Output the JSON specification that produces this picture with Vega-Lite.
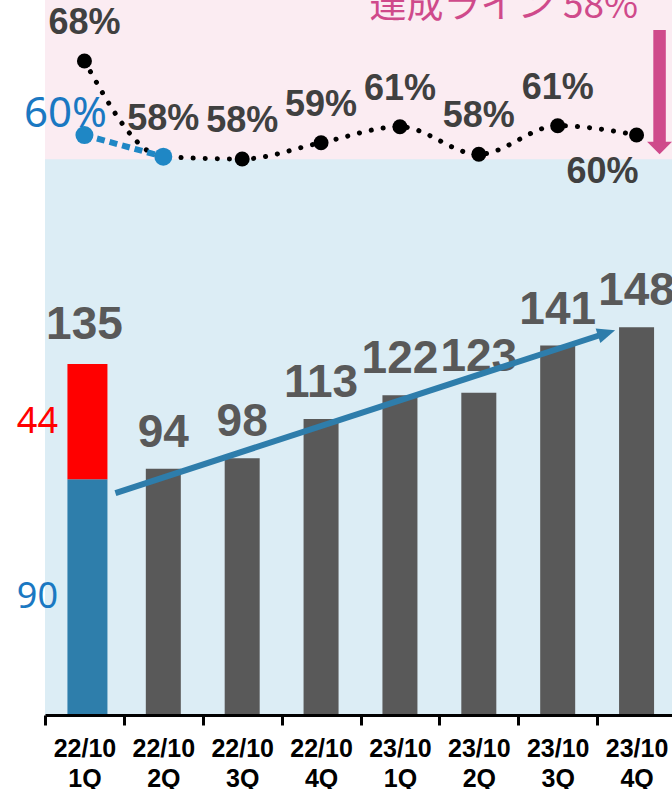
{
  "$schema": "https://vega.github.io/schema/vega-lite/v6.json",
  "width": 627,
  "height": 715,
  "autosize": {"type": "none"},
  "padding": {"left": 45, "top": 0, "right": 0, "bottom": 74},
  "background": "#ffffff",
  "config": {"view": {"fill": "#dcedf5", "stroke": null}, "font": "Liberation Sans"},
  "datasets": {
    "sales": [
      {"q": "22/10 1Q", "value": 135},
      {"q": "22/10 2Q", "value": 94},
      {"q": "22/10 3Q", "value": 98},
      {"q": "22/10 4Q", "value": 113},
      {"q": "23/10 1Q", "value": 122},
      {"q": "23/10 2Q", "value": 123},
      {"q": "23/10 3Q", "value": 141},
      {"q": "23/10 4Q", "value": 148}
    ],
    "split": [
      {"q": "22/10 1Q", "part": "既存", "value": 90},
      {"q": "22/10 1Q", "part": "新規", "value": 44}
    ],
    "rate": [
      {"q": "22/10 1Q", "rate": 67.9, "label": "68%"},
      {"q": "22/10 2Q", "rate": 57.55, "label": "58%"},
      {"q": "22/10 3Q", "rate": 57.3, "label": "58%"},
      {"q": "22/10 4Q", "rate": 59.06, "label": "59%"},
      {"q": "23/10 1Q", "rate": 60.79, "label": "61%"},
      {"q": "23/10 2Q", "rate": 57.81, "label": "58%"},
      {"q": "23/10 3Q", "rate": 60.9, "label": "61%"},
      {"q": "23/10 4Q", "rate": 59.89, "label": "60%"}
    ],
    "rateBlue": [
      {"q": "22/10 1Q", "rate": 59.89, "label": "60%"},
      {"q": "22/10 2Q", "rate": 57.55, "label": "58%"}
    ]
  },
  "layer": [
    {
      "data": {"values": [{}]},
      "mark": {"type": "rect", "color": "#fbecf2"},
      "encoding": {
        "y": {"datum": 57.26, "type": "quantitative", "scale": {"domain": [-2.81, 74.49], "nice": false, "zero": false}, "axis": null},
        "y2": {"datum": 74.49}
      }
    },
    {
      "data": {"name": "sales"},
      "transform": [{"filter": "datum.q != '22/10 1Q'"}],
      "mark": {"type": "bar", "color": "#595959", "width": 35},
      "encoding": {
        "x": {"field": "q", "type": "nominal", "scale": {"domain": ["22/10 1Q","22/10 2Q","22/10 3Q","22/10 4Q","23/10 1Q","23/10 2Q","23/10 3Q","23/10 4Q"], "range": [0, 631], "paddingInner": 0, "paddingOuter": 0}, "axis": {"title": null, "labelExpr": "isValid(datum.value) ? split(datum.value, ' ') : ''", "labelAngle": 0, "labelFont": "Liberation Sans", "labelFontSize": 25, "labelFontWeight": "bold", "labelColor": "#000000", "labelLineHeight": 30, "labelPadding": 11, "labelBaseline": "top", "tickBand": "extent", "tickSize": 10, "tickWidth": 3, "tickColor": "#000000", "domainColor": "#000000", "domainWidth": 3, "grid": false, "labelOverlap": false, "labelBound": false, "zindex": 1}},
        "y": {"field": "value", "type": "quantitative", "scale": {"domain": [0, 272.9], "nice": false, "zero": false}, "axis": null}
      }
    },
    {
      "data": {"name": "split"},
      "mark": {"type": "bar", "width": 40, "xOffset": 3},
      "encoding": {
        "x": {"field": "q", "type": "nominal", "scale": {"domain": ["22/10 1Q","22/10 2Q","22/10 3Q","22/10 4Q","23/10 1Q","23/10 2Q","23/10 3Q","23/10 4Q"], "range": [0, 631], "paddingInner": 0, "paddingOuter": 0}, "axis": {"title": null, "labelExpr": "isValid(datum.value) ? split(datum.value, ' ') : ''", "labelAngle": 0, "labelFont": "Liberation Sans", "labelFontSize": 25, "labelFontWeight": "bold", "labelColor": "#000000", "labelLineHeight": 30, "labelPadding": 11, "labelBaseline": "top", "tickBand": "extent", "tickSize": 10, "tickWidth": 3, "tickColor": "#000000", "domainColor": "#000000", "domainWidth": 3, "grid": false, "labelOverlap": false, "labelBound": false, "zindex": 1}},
        "y": {"field": "value", "type": "quantitative", "stack": "zero", "scale": {"domain": [0, 272.9], "nice": false, "zero": false}, "axis": null},
        "color": {"field": "part", "type": "nominal", "scale": {"domain": ["既存", "新規"], "range": ["#2e7eab", "#ff0000"]}, "legend": null},
        "order": {"field": "part", "sort": "descending"}
      }
    },
    {
      "data": {"name": "split"},
      "transform": [
        {"stack": "value", "groupby": ["q"], "sort": [{"field": "part", "order": "descending"}], "as": ["v0", "v1"]},
        {"calculate": "(datum.v0 + datum.v1) / 2", "as": "mid"}
      ],
      "mark": {"type": "text", "font": "Noto Sans", "fontSize": 36, "dx": -47, "baseline": "middle"},
      "encoding": {
        "x": {"field": "q", "type": "nominal", "scale": {"domain": ["22/10 1Q","22/10 2Q","22/10 3Q","22/10 4Q","23/10 1Q","23/10 2Q","23/10 3Q","23/10 4Q"], "range": [0, 631], "paddingInner": 0, "paddingOuter": 0}, "axis": {"title": null, "labelExpr": "isValid(datum.value) ? split(datum.value, ' ') : ''", "labelAngle": 0, "labelFont": "Liberation Sans", "labelFontSize": 25, "labelFontWeight": "bold", "labelColor": "#000000", "labelLineHeight": 30, "labelPadding": 11, "labelBaseline": "top", "tickBand": "extent", "tickSize": 10, "tickWidth": 3, "tickColor": "#000000", "domainColor": "#000000", "domainWidth": 3, "grid": false, "labelOverlap": false, "labelBound": false, "zindex": 1}},
        "y": {"field": "mid", "type": "quantitative", "scale": {"domain": [0, 272.9], "nice": false, "zero": false}, "axis": null},
        "text": {"field": "value", "type": "quantitative"},
        "color": {"field": "part", "type": "nominal", "scale": {"domain": ["既存", "新規"], "range": ["#1a78c2", "#ff0000"]}, "legend": null}
      }
    },
    {
      "data": {"name": "sales"},
      "mark": {"type": "text", "fontSize": 46, "fontWeight": "bold", "color": "#595959", "baseline": "alphabetic", "dy": -22},
      "encoding": {
        "x": {"field": "q", "type": "nominal", "scale": {"domain": ["22/10 1Q","22/10 2Q","22/10 3Q","22/10 4Q","23/10 1Q","23/10 2Q","23/10 3Q","23/10 4Q"], "range": [0, 631], "paddingInner": 0, "paddingOuter": 0}, "axis": {"title": null, "labelExpr": "isValid(datum.value) ? split(datum.value, ' ') : ''", "labelAngle": 0, "labelFont": "Liberation Sans", "labelFontSize": 25, "labelFontWeight": "bold", "labelColor": "#000000", "labelLineHeight": 30, "labelPadding": 11, "labelBaseline": "top", "tickBand": "extent", "tickSize": 10, "tickWidth": 3, "tickColor": "#000000", "domainColor": "#000000", "domainWidth": 3, "grid": false, "labelOverlap": false, "labelBound": false, "zindex": 1}},
        "y": {"field": "value", "type": "quantitative", "scale": {"domain": [0, 272.9], "nice": false, "zero": false}, "axis": null},
        "text": {"field": "value", "type": "quantitative"}
      }
    },
    {
      "data": {"values": [{}]},
      "mark": {"type": "rule", "color": "#2e7dab", "strokeWidth": 6, "xOffset": 31, "x2Offset": -30},
      "encoding": {
        "x": {"datum": "22/10 1Q", "type": "nominal", "scale": {"domain": ["22/10 1Q","22/10 2Q","22/10 3Q","22/10 4Q","23/10 1Q","23/10 2Q","23/10 3Q","23/10 4Q"], "range": [0, 631], "paddingInner": 0, "paddingOuter": 0}, "axis": {"title": null, "labelExpr": "isValid(datum.value) ? split(datum.value, ' ') : ''", "labelAngle": 0, "labelFont": "Liberation Sans", "labelFontSize": 25, "labelFontWeight": "bold", "labelColor": "#000000", "labelLineHeight": 30, "labelPadding": 11, "labelBaseline": "top", "tickBand": "extent", "tickSize": 10, "tickWidth": 3, "tickColor": "#000000", "domainColor": "#000000", "domainWidth": 3, "grid": false, "labelOverlap": false, "labelBound": false, "zindex": 1}},
        "x2": {"datum": "23/10 4Q"},
        "y": {"datum": 84.7, "type": "quantitative", "scale": {"domain": [0, 272.9], "nice": false, "zero": false}, "axis": null},
        "y2": {"datum": 145.8}
      }
    },
    {
      "data": {"values": [{}]},
      "mark": {"type": "point", "shape": "M-1,-0.85L1,0L-1,0.85Z", "filled": true, "opacity": 1, "color": "#2e7dab", "size": 324, "angle": 342, "xOffset": -30},
      "encoding": {
        "x": {"datum": "23/10 4Q", "type": "nominal", "scale": {"domain": ["22/10 1Q","22/10 2Q","22/10 3Q","22/10 4Q","23/10 1Q","23/10 2Q","23/10 3Q","23/10 4Q"], "range": [0, 631], "paddingInner": 0, "paddingOuter": 0}, "axis": {"title": null, "labelExpr": "isValid(datum.value) ? split(datum.value, ' ') : ''", "labelAngle": 0, "labelFont": "Liberation Sans", "labelFontSize": 25, "labelFontWeight": "bold", "labelColor": "#000000", "labelLineHeight": 30, "labelPadding": 11, "labelBaseline": "top", "tickBand": "extent", "tickSize": 10, "tickWidth": 3, "tickColor": "#000000", "domainColor": "#000000", "domainWidth": 3, "grid": false, "labelOverlap": false, "labelBound": false, "zindex": 1}},
        "y": {"datum": 145.8, "type": "quantitative", "scale": {"domain": [0, 272.9], "nice": false, "zero": false}, "axis": null}
      }
    },
    {
      "data": {"name": "rate"},
      "mark": {"type": "line", "color": "#000000", "strokeWidth": 5, "strokeCap": "round", "strokeDash": [0.1, 12], "interpolate": "monotone"},
      "encoding": {
        "x": {"field": "q", "type": "nominal", "scale": {"domain": ["22/10 1Q","22/10 2Q","22/10 3Q","22/10 4Q","23/10 1Q","23/10 2Q","23/10 3Q","23/10 4Q"], "range": [0, 631], "paddingInner": 0, "paddingOuter": 0}, "axis": {"title": null, "labelExpr": "isValid(datum.value) ? split(datum.value, ' ') : ''", "labelAngle": 0, "labelFont": "Liberation Sans", "labelFontSize": 25, "labelFontWeight": "bold", "labelColor": "#000000", "labelLineHeight": 30, "labelPadding": 11, "labelBaseline": "top", "tickBand": "extent", "tickSize": 10, "tickWidth": 3, "tickColor": "#000000", "domainColor": "#000000", "domainWidth": 3, "grid": false, "labelOverlap": false, "labelBound": false, "zindex": 1}},
        "y": {"field": "rate", "type": "quantitative", "scale": {"domain": [-2.81, 74.49], "nice": false, "zero": false}, "axis": null}
      }
    },
    {
      "data": {"name": "rateBlue"},
      "mark": {"type": "line", "color": "#1f87c5", "strokeWidth": 6, "strokeDash": [8, 5]},
      "encoding": {
        "x": {"field": "q", "type": "nominal", "scale": {"domain": ["22/10 1Q","22/10 2Q","22/10 3Q","22/10 4Q","23/10 1Q","23/10 2Q","23/10 3Q","23/10 4Q"], "range": [0, 631], "paddingInner": 0, "paddingOuter": 0}, "axis": {"title": null, "labelExpr": "isValid(datum.value) ? split(datum.value, ' ') : ''", "labelAngle": 0, "labelFont": "Liberation Sans", "labelFontSize": 25, "labelFontWeight": "bold", "labelColor": "#000000", "labelLineHeight": 30, "labelPadding": 11, "labelBaseline": "top", "tickBand": "extent", "tickSize": 10, "tickWidth": 3, "tickColor": "#000000", "domainColor": "#000000", "domainWidth": 3, "grid": false, "labelOverlap": false, "labelBound": false, "zindex": 1}},
        "y": {"field": "rate", "type": "quantitative", "scale": {"domain": [-2.81, 74.49], "nice": false, "zero": false}, "axis": null}
      }
    },
    {
      "data": {"name": "rate"},
      "mark": {"type": "point", "filled": true, "opacity": 1, "color": "#000000", "size": 225},
      "encoding": {
        "x": {"field": "q", "type": "nominal", "scale": {"domain": ["22/10 1Q","22/10 2Q","22/10 3Q","22/10 4Q","23/10 1Q","23/10 2Q","23/10 3Q","23/10 4Q"], "range": [0, 631], "paddingInner": 0, "paddingOuter": 0}, "axis": {"title": null, "labelExpr": "isValid(datum.value) ? split(datum.value, ' ') : ''", "labelAngle": 0, "labelFont": "Liberation Sans", "labelFontSize": 25, "labelFontWeight": "bold", "labelColor": "#000000", "labelLineHeight": 30, "labelPadding": 11, "labelBaseline": "top", "tickBand": "extent", "tickSize": 10, "tickWidth": 3, "tickColor": "#000000", "domainColor": "#000000", "domainWidth": 3, "grid": false, "labelOverlap": false, "labelBound": false, "zindex": 1}},
        "y": {"field": "rate", "type": "quantitative", "scale": {"domain": [-2.81, 74.49], "nice": false, "zero": false}, "axis": null}
      }
    },
    {
      "data": {"name": "rateBlue"},
      "mark": {"type": "point", "filled": true, "opacity": 1, "color": "#1f87c5", "size": 324},
      "encoding": {
        "x": {"field": "q", "type": "nominal", "scale": {"domain": ["22/10 1Q","22/10 2Q","22/10 3Q","22/10 4Q","23/10 1Q","23/10 2Q","23/10 3Q","23/10 4Q"], "range": [0, 631], "paddingInner": 0, "paddingOuter": 0}, "axis": {"title": null, "labelExpr": "isValid(datum.value) ? split(datum.value, ' ') : ''", "labelAngle": 0, "labelFont": "Liberation Sans", "labelFontSize": 25, "labelFontWeight": "bold", "labelColor": "#000000", "labelLineHeight": 30, "labelPadding": 11, "labelBaseline": "top", "tickBand": "extent", "tickSize": 10, "tickWidth": 3, "tickColor": "#000000", "domainColor": "#000000", "domainWidth": 3, "grid": false, "labelOverlap": false, "labelBound": false, "zindex": 1}},
        "y": {"field": "rate", "type": "quantitative", "scale": {"domain": [-2.81, 74.49], "nice": false, "zero": false}, "axis": null}
      }
    },
    {
      "data": {"name": "rate"},
      "transform": [{"filter": "datum.q != '23/10 4Q'"}],
      "mark": {"type": "text", "fontSize": 36, "fontWeight": "bold", "color": "#404040", "baseline": "alphabetic", "dy": -27},
      "encoding": {
        "x": {"field": "q", "type": "nominal", "scale": {"domain": ["22/10 1Q","22/10 2Q","22/10 3Q","22/10 4Q","23/10 1Q","23/10 2Q","23/10 3Q","23/10 4Q"], "range": [0, 631], "paddingInner": 0, "paddingOuter": 0}, "axis": {"title": null, "labelExpr": "isValid(datum.value) ? split(datum.value, ' ') : ''", "labelAngle": 0, "labelFont": "Liberation Sans", "labelFontSize": 25, "labelFontWeight": "bold", "labelColor": "#000000", "labelLineHeight": 30, "labelPadding": 11, "labelBaseline": "top", "tickBand": "extent", "tickSize": 10, "tickWidth": 3, "tickColor": "#000000", "domainColor": "#000000", "domainWidth": 3, "grid": false, "labelOverlap": false, "labelBound": false, "zindex": 1}},
        "y": {"field": "rate", "type": "quantitative", "scale": {"domain": [-2.81, 74.49], "nice": false, "zero": false}, "axis": null},
        "text": {"field": "label", "type": "nominal"}
      }
    },
    {
      "data": {"name": "rate"},
      "transform": [{"filter": "datum.q == '23/10 4Q'"}],
      "mark": {"type": "text", "fontSize": 36, "fontWeight": "bold", "color": "#404040", "baseline": "alphabetic", "dx": -34, "dy": 48},
      "encoding": {
        "x": {"field": "q", "type": "nominal", "scale": {"domain": ["22/10 1Q","22/10 2Q","22/10 3Q","22/10 4Q","23/10 1Q","23/10 2Q","23/10 3Q","23/10 4Q"], "range": [0, 631], "paddingInner": 0, "paddingOuter": 0}, "axis": {"title": null, "labelExpr": "isValid(datum.value) ? split(datum.value, ' ') : ''", "labelAngle": 0, "labelFont": "Liberation Sans", "labelFontSize": 25, "labelFontWeight": "bold", "labelColor": "#000000", "labelLineHeight": 30, "labelPadding": 11, "labelBaseline": "top", "tickBand": "extent", "tickSize": 10, "tickWidth": 3, "tickColor": "#000000", "domainColor": "#000000", "domainWidth": 3, "grid": false, "labelOverlap": false, "labelBound": false, "zindex": 1}},
        "y": {"field": "rate", "type": "quantitative", "scale": {"domain": [-2.81, 74.49], "nice": false, "zero": false}, "axis": null},
        "text": {"field": "label", "type": "nominal"}
      }
    },
    {
      "data": {"name": "rateBlue"},
      "transform": [{"filter": "datum.q == '22/10 1Q'"}],
      "mark": {"type": "text", "font": "Noto Sans", "fontSize": 42, "color": "#1a78c2", "baseline": "alphabetic", "dx": -19, "dy": -8},
      "encoding": {
        "x": {"field": "q", "type": "nominal", "scale": {"domain": ["22/10 1Q","22/10 2Q","22/10 3Q","22/10 4Q","23/10 1Q","23/10 2Q","23/10 3Q","23/10 4Q"], "range": [0, 631], "paddingInner": 0, "paddingOuter": 0}, "axis": {"title": null, "labelExpr": "isValid(datum.value) ? split(datum.value, ' ') : ''", "labelAngle": 0, "labelFont": "Liberation Sans", "labelFontSize": 25, "labelFontWeight": "bold", "labelColor": "#000000", "labelLineHeight": 30, "labelPadding": 11, "labelBaseline": "top", "tickBand": "extent", "tickSize": 10, "tickWidth": 3, "tickColor": "#000000", "domainColor": "#000000", "domainWidth": 3, "grid": false, "labelOverlap": false, "labelBound": false, "zindex": 1}},
        "y": {"field": "rate", "type": "quantitative", "scale": {"domain": [-2.81, 74.49], "nice": false, "zero": false}, "axis": null},
        "text": {"field": "label", "type": "nominal"}
      }
    },
    {
      "data": {"values": [{}]},
      "mark": {"type": "rule", "color": "#cf4a8b", "strokeWidth": 12.5, "xOffset": 23},
      "encoding": {
        "x": {"datum": "23/10 4Q", "type": "nominal", "scale": {"domain": ["22/10 1Q","22/10 2Q","22/10 3Q","22/10 4Q","23/10 1Q","23/10 2Q","23/10 3Q","23/10 4Q"], "range": [0, 631], "paddingInner": 0, "paddingOuter": 0}, "axis": {"title": null, "labelExpr": "isValid(datum.value) ? split(datum.value, ' ') : ''", "labelAngle": 0, "labelFont": "Liberation Sans", "labelFontSize": 25, "labelFontWeight": "bold", "labelColor": "#000000", "labelLineHeight": 30, "labelPadding": 11, "labelBaseline": "top", "tickBand": "extent", "tickSize": 10, "tickWidth": 3, "tickColor": "#000000", "domainColor": "#000000", "domainWidth": 3, "grid": false, "labelOverlap": false, "labelBound": false, "zindex": 1}},
        "y": {"datum": 71.24, "type": "quantitative", "scale": {"domain": [-2.81, 74.49], "nice": false, "zero": false}, "axis": null},
        "y2": {"datum": 59.0}
      }
    },
    {
      "data": {"values": [{}]},
      "mark": {"type": "point", "shape": "M-1,-0.5L1,-0.5L0,0.5Z", "filled": true, "opacity": 1, "color": "#cf4a8b", "size": 625, "xOffset": 23},
      "encoding": {
        "x": {"datum": "23/10 4Q", "type": "nominal", "scale": {"domain": ["22/10 1Q","22/10 2Q","22/10 3Q","22/10 4Q","23/10 1Q","23/10 2Q","23/10 3Q","23/10 4Q"], "range": [0, 631], "paddingInner": 0, "paddingOuter": 0}, "axis": {"title": null, "labelExpr": "isValid(datum.value) ? split(datum.value, ' ') : ''", "labelAngle": 0, "labelFont": "Liberation Sans", "labelFontSize": 25, "labelFontWeight": "bold", "labelColor": "#000000", "labelLineHeight": 30, "labelPadding": 11, "labelBaseline": "top", "tickBand": "extent", "tickSize": 10, "tickWidth": 3, "tickColor": "#000000", "domainColor": "#000000", "domainWidth": 3, "grid": false, "labelOverlap": false, "labelBound": false, "zindex": 1}},
        "y": {"datum": 58.49, "type": "quantitative", "scale": {"domain": [-2.81, 74.49], "nice": false, "zero": false}, "axis": null}
      }
    },
    {
      "data": {"values": [{"text": "達成ライン 58%"}]},
      "mark": {"type": "text", "font": "Noto Sans CJK JP", "fontSize": 37, "color": "#cf4a8b", "baseline": "alphabetic", "dx": 25},
      "encoding": {
        "x": {"datum": "23/10 2Q", "type": "nominal", "scale": {"domain": ["22/10 1Q","22/10 2Q","22/10 3Q","22/10 4Q","23/10 1Q","23/10 2Q","23/10 3Q","23/10 4Q"], "range": [0, 631], "paddingInner": 0, "paddingOuter": 0}, "axis": {"title": null, "labelExpr": "isValid(datum.value) ? split(datum.value, ' ') : ''", "labelAngle": 0, "labelFont": "Liberation Sans", "labelFontSize": 25, "labelFontWeight": "bold", "labelColor": "#000000", "labelLineHeight": 30, "labelPadding": 11, "labelBaseline": "top", "tickBand": "extent", "tickSize": 10, "tickWidth": 3, "tickColor": "#000000", "domainColor": "#000000", "domainWidth": 3, "grid": false, "labelOverlap": false, "labelBound": false, "zindex": 1}},
        "y": {"datum": 72.54, "type": "quantitative", "scale": {"domain": [-2.81, 74.49], "nice": false, "zero": false}, "axis": null},
        "text": {"field": "text", "type": "nominal"}
      }
    }
  ],
  "resolve": {"scale": {"y": "independent", "color": "independent"}}
}
